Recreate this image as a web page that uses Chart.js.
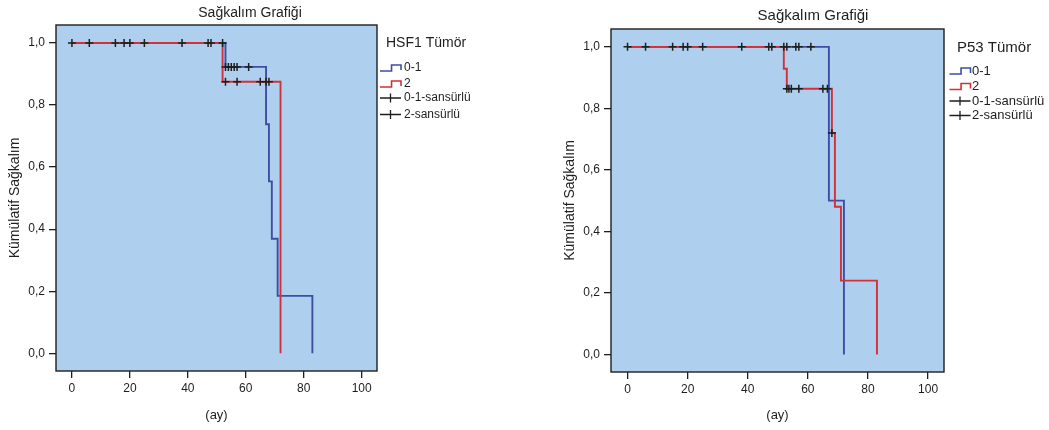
<!DOCTYPE html>
<html>
<head>
<meta charset="utf-8">
<script src="https://cdn.jsdelivr.net/npm/chart.js@4.4.1/dist/chart.umd.min.js"></script>
<style>
  html, body { margin: 0; padding: 0; background: #ffffff; }
  body { width: 1049px; height: 430px; position: relative; overflow: hidden; }
  canvas { position: absolute; top: 0; }
</style>
</head>
<body>
<canvas id="c1" width="555" height="430" style="left:0px"></canvas>
<canvas id="c2" width="494" height="430" style="left:555px"></canvas>
<script>
// ---------- data ----------
const xTicks = [0, 20, 40, 60, 80, 100];
const yTicks = [0, 0.2, 0.4, 0.6, 0.8, 1.0];
const chartTitle = 'Sağkalım Grafiği';
const xTitle = '(ay)';
const yTitle = 'Kümülatif Sağkalım';
const legendLabels = ['0-1', '2', '0-1-sansürlü', '2-sansürlü'];

// HSF1 Tümör
const hsf1Time01 = [0, 53, 67, 68, 69, 71, 83];
const hsf1Surv01 = [1, 0.923, 0.738, 0.554, 0.369, 0.185, 0];
const hsf1Time2 = [0, 52, 72];
const hsf1Surv2 = [1, 0.875, 0];
const hsf1CensTime01 = [0, 15, 20, 38, 47, 52, 53, 54, 55, 56, 57, 61];
const hsf1CensSurv01 = [1, 1, 1, 1, 1, 1, 0.923, 0.923, 0.923, 0.923, 0.923, 0.923];
const hsf1CensTime2 = [6, 18, 25, 48, 53, 57, 65, 67, 68];
const hsf1CensSurv2 = [1, 1, 1, 1, 0.875, 0.875, 0.875, 0.875, 0.875];

// P53 Tümör
const p53Time01 = [0, 67, 72];
const p53Surv01 = [1, 0.5, 0];
const p53Time2 = [0, 52, 53, 68, 69, 71, 83];
const p53Surv2 = [1, 0.929, 0.864, 0.72, 0.48, 0.24, 0];
const p53CensTime01 = [0, 15, 20, 38, 47, 52, 53, 56, 57, 61];
const p53CensSurv01 = [1, 1, 1, 1, 1, 1, 1, 1, 1, 1];
const p53CensTime2 = [6, 18.5, 25, 48, 53, 53.7, 54.5, 57, 65, 66.5, 68];
const p53CensSurv2 = [1, 1, 1, 1, 0.864, 0.864, 0.864, 0.864, 0.864, 0.864, 0.72];

// ---------- styling ----------
const FONT = '"Liberation Sans", Arial, sans-serif';
const BLUE = '#3f4ea3';
const RED = '#d2313b';
const INK = '#1e1e1e';
const PLOT_BG = '#aed0ee';
const X_MIN = -5.5, X_MAX = 105.3;
const Y_MIN = -0.057, Y_MAX = 1.058;

function pts(xs, ys) { return xs.map((x, i) => ({ x: x, y: ys[i] })); }

function stepIcon(ctx, x0, y, w, color) {
  ctx.save();
  ctx.strokeStyle = color;
  ctx.lineWidth = 1.6;
  ctx.beginPath();
  ctx.moveTo(x0, y + 3);
  ctx.lineTo(x0 + w * 0.55, y + 3);
  ctx.lineTo(x0 + w * 0.55, y - 3);
  ctx.lineTo(x0 + w, y - 3);
  ctx.lineTo(x0 + w, y + 2);
  ctx.stroke();
  ctx.restore();
}
function crossIcon(ctx, x0, y, w) {
  ctx.save();
  ctx.strokeStyle = INK;
  ctx.lineWidth = 1.3;
  ctx.beginPath();
  ctx.moveTo(x0, y); ctx.lineTo(x0 + w, y);
  ctx.moveTo(x0 + w / 2, y - 4.5); ctx.lineTo(x0 + w / 2, y + 4.5);
  ctx.stroke();
  ctx.restore();
}

function makeChart(id, opt) {
  const decor = {
    id: 'decor',
    beforeDatasetsDraw(chart) {
      const { ctx, chartArea: a } = chart;
      ctx.save();
      ctx.fillStyle = PLOT_BG;
      ctx.fillRect(a.left, a.top, a.right - a.left, a.bottom - a.top);
      ctx.restore();
    },
    afterDraw(chart) {
      const { ctx, chartArea: a } = chart;
      ctx.save();
      ctx.strokeStyle = INK;
      ctx.lineWidth = 1.4;
      ctx.strokeRect(a.left, a.top, a.right - a.left, a.bottom - a.top);
      // chart title
      ctx.fillStyle = INK;
      ctx.font = opt.titleSize + 'px ' + FONT;
      ctx.textAlign = 'center';
      ctx.textBaseline = 'middle';
      ctx.fillText(chartTitle, opt.titleX, opt.titleY);
      // legend
      const L = opt.legend;
      ctx.textAlign = 'left';
      ctx.font = L.titleSize + 'px ' + FONT;
      ctx.fillText(L.title, L.titleX, L.titleY);
      ctx.font = L.itemSize + 'px ' + FONT;
      stepIcon(ctx, L.iconX, L.rows[0], L.iconW, BLUE);
      stepIcon(ctx, L.iconX, L.rows[1], L.iconW, RED);
      crossIcon(ctx, L.iconX, L.rows[2], L.iconW);
      crossIcon(ctx, L.iconX, L.rows[3], L.iconW);
      legendLabels.forEach((t, i) => ctx.fillText(t, L.textX, L.rows[i]));
      ctx.restore();
    }
  };

  return new Chart(document.getElementById(id), {
    type: 'line',
    data: {
      datasets: [
        { data: pts(opt.c01t, opt.c01s), showLine: false, pointStyle: 'cross', pointRadius: 4,
          pointBorderColor: INK, pointBorderWidth: 1.5, order: 0 },
        { data: pts(opt.c2t, opt.c2s), showLine: false, pointStyle: 'cross', pointRadius: 4,
          pointBorderColor: INK, pointBorderWidth: 1.5, order: 0 },
        { data: pts(opt.t2, opt.s2), stepped: true, borderColor: RED, borderWidth: 1.9,
          pointRadius: 0, fill: false, order: 1 },
        { data: pts(opt.t01, opt.s01), stepped: true, borderColor: BLUE, borderWidth: 1.9,
          pointRadius: 0, fill: false, order: 2 }
      ]
    },
    options: {
      responsive: false,
      animation: false,
      events: [],
      layout: { padding: { left: 0, top: opt.padTop, right: opt.padRight, bottom: 0 } },
      plugins: { legend: { display: false }, title: { display: false }, tooltip: { enabled: false } },
      scales: {
        x: {
          type: 'linear', min: X_MIN, max: X_MAX,
          afterBuildTicks: s => { s.ticks = xTicks.map(v => ({ value: v })); },
          afterFit: s => { s.height = opt.xAxisH; },
          ticks: { callback: v => String(v), font: { family: FONT, size: 12 }, color: INK,
                   padding: 3, maxRotation: 0, autoSkip: false },
          grid: { drawOnChartArea: false, drawTicks: true, tickLength: 7, color: INK, lineWidth: 1.3 },
          border: { display: false },
          title: { display: true, text: xTitle, font: { family: FONT, size: 13 }, color: INK,
                   padding: { top: 0, bottom: 7 } }
        },
        y: {
          type: 'linear', min: Y_MIN, max: Y_MAX,
          afterBuildTicks: s => { s.ticks = yTicks.map(v => ({ value: v })); },
          afterFit: s => { s.width = 56; },
          ticks: { callback: v => v.toFixed(1).replace('.', ','), font: { family: FONT, size: 12 },
                   color: INK, padding: 4, autoSkip: false },
          grid: { drawOnChartArea: false, drawTicks: true, tickLength: 7, color: INK, lineWidth: 1.3 },
          border: { display: false },
          title: { display: true, text: yTitle, font: { family: FONT, size: 14 }, color: INK,
                   padding: { top: 7, bottom: 0 } }
        }
      }
    },
    plugins: [decor]
  });
}

makeChart('c1', {
  t01: hsf1Time01, s01: hsf1Surv01, t2: hsf1Time2, s2: hsf1Surv2,
  c01t: hsf1CensTime01, c01s: hsf1CensSurv01, c2t: hsf1CensTime2, c2s: hsf1CensSurv2,
  padTop: 25, padRight: 178, xAxisH: 59,
  titleX: 250, titleY: 13, titleSize: 14,
  legend: { title: 'HSF1 Tümör', titleX: 386, titleY: 43, titleSize: 14, itemSize: 12,
            iconX: 380, iconW: 21, textX: 404, rows: [68, 84, 98, 114.5] }
});

makeChart('c2', {
  t01: p53Time01, s01: p53Surv01, t2: p53Time2, s2: p53Surv2,
  c01t: p53CensTime01, c01s: p53CensSurv01, c2t: p53CensTime2, c2s: p53CensSurv2,
  padTop: 29, padRight: 105, xAxisH: 58,
  titleX: 813 - 555, titleY: 16, titleSize: 15,
  legend: { title: 'P53 Tümör', titleX: 957 - 555, titleY: 48, titleSize: 15, itemSize: 13,
            iconX: 949.5 - 555, iconW: 21, textX: 972 - 555, rows: [71, 86.5, 101, 115.5] }
});
</script>
</body>
</html>
